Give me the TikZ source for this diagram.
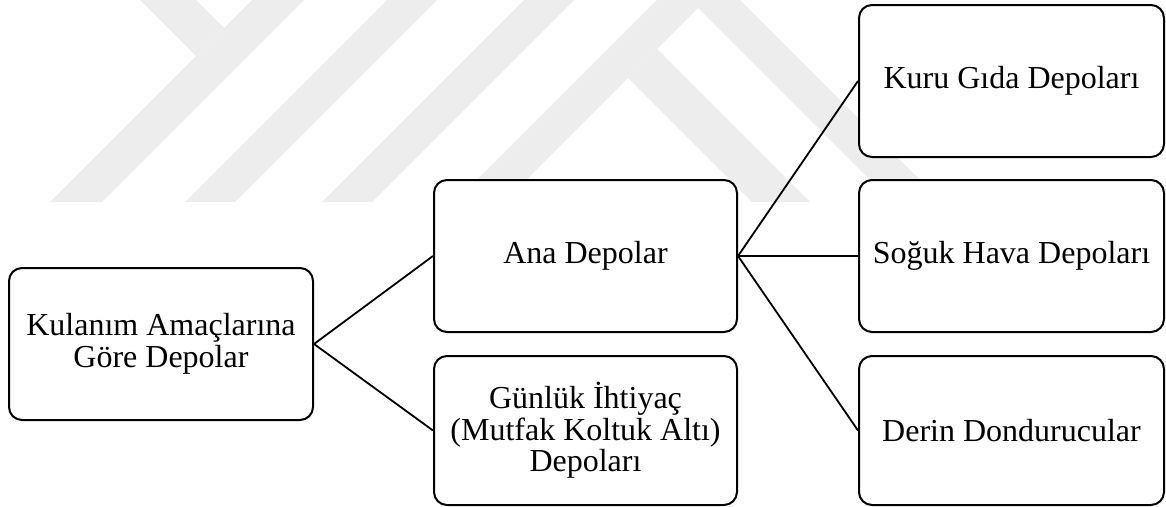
\documentclass[tikz,border=0pt]{standalone}
\usepackage{fontspec}
\setmainfont{Liberation Serif}
\definecolor{wmgray}{RGB}{237,237,237}
\tikzset{
  box/.style={draw=black, line width=2pt, rounded corners=13pt, fill=white,
    inner sep=0pt, align=center, minimum width=304pt,
    font=\fontsize{32}{31.5}\selectfont},
  conn/.style={draw=black, line width=1.8pt},
  wm/.style={fill=wmgray, draw=none}
}
\begin{document}
\begin{tikzpicture}[x=1pt, y=-1pt]
\useasboundingbox (0,0) rectangle (1166,506);

% faint logo in the background
\begin{scope}
  \clip (0,0) rectangle (1166,202);
  \fill[wm] (252,0) -- (304,0) -- (102,202) -- (50,202) -- cycle;
  \fill[wm] (140,0) -- (196,0) -- (224,28) -- (196,56) -- cycle;
  \fill[wm] (387,0) -- (437,0) -- (235,202) -- (185,202) -- cycle;
  \fill[wm] (524,0) -- (574,0) -- (372,202) -- (322,202) -- cycle;
  \fill[wm] (657,0) -- (706,0) -- (504,202) -- (455,202) -- cycle;
  \fill[wm] (628,78) -- (657,49) -- (810,202) -- (752,202) -- cycle;
  \fill[wm] (690,0) -- (740,0) -- (942,202) -- (892,202) -- cycle;
\end{scope}

% boxes
\node[box, minimum height=152pt] (root) at (161,344) {Kulanım Amaçlarına\\Göre Depolar};
\node[box, minimum width=303pt, minimum height=152pt] (ana) at (585.5,256) {Ana Depolar};
\node[box, minimum width=303pt, minimum height=149pt] (gunluk) at (585.5,430.5) {Günlük İhtiyaç\\(Mutfak Koltuk Altı)\\Depoları};
\node[box, minimum width=305pt, minimum height=152pt] (kuru) at (1011.5,81) {Kuru Gıda Depoları};
\node[box, minimum width=305pt, minimum height=152pt] (soguk) at (1011.5,256) {Soğuk Hava Depoları};
\node[box, minimum width=305pt, minimum height=149pt] (derin) at (1011.5,430.5) {Derin Dondurucular};

% connectors
\draw[conn] (root.east) -- (ana.west);
\draw[conn] (root.east) -- (gunluk.west);
\draw[conn] (ana.east) -- (kuru.west);
\draw[conn] (ana.east) -- (soguk.west);
\draw[conn] (ana.east) -- (derin.west);
\end{tikzpicture}
\end{document}
